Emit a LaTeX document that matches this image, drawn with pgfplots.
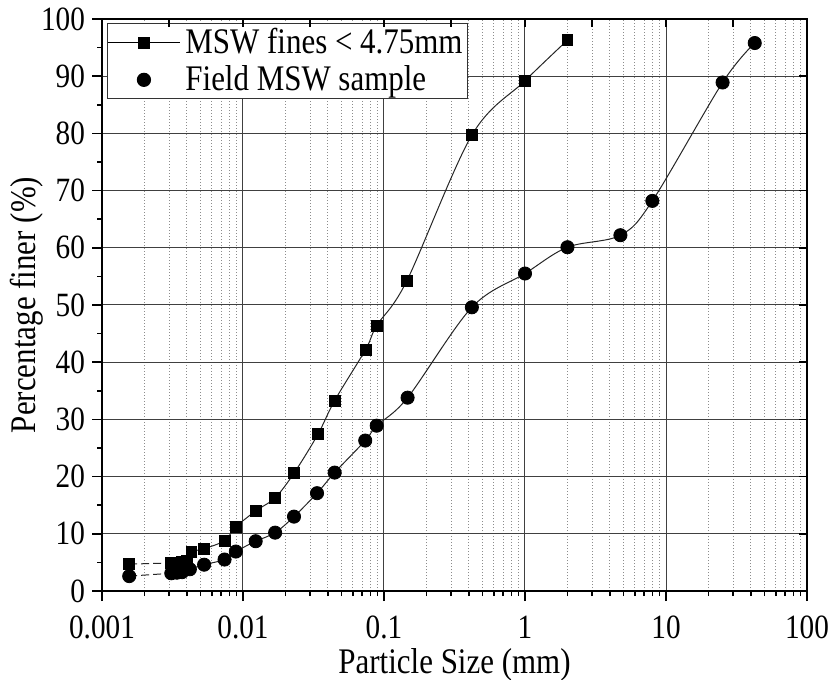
\documentclass[border=0pt]{standalone}
\usepackage{fontspec}
\setmainfont{Liberation Serif}[FakeStretch=0.86]
\usepackage{pgfplots}
\pgfplotsset{compat=1.18}

% legend images: a line with a mark in its middle, or the mark alone
\pgfplotsset{
  line mark legend/.style={legend image code/.code={
    \draw[black, line width=0.5pt] (0pt,0pt) -- (36pt,0pt);
    \draw[mark repeat=2, mark phase=2, ##1]
      plot coordinates {(0pt,0pt) (18pt,0pt) (36pt,0pt)};}},
  mark only legend/.style={legend image code/.code={
    \draw[mark repeat=2, mark phase=2, ##1]
      plot coordinates {(0pt,0pt) (18pt,0pt) (36pt,0pt)};}},
}

% Grain size distribution: MSW fines (< 4.75 mm) and the field MSW sample
\pgfplotstableread{
x        y
0.00156  4.7
0.0031   4.9
0.0034   5.0
0.0037   5.1
0.0040   5.3
0.0043   6.8
0.0053   7.4
0.0074   8.8
0.0089   11.2
0.0123   14.0
0.0169   16.3
0.023    20.6
0.034    27.4
0.0447   33.3
0.074    42.2
0.0888   46.4
0.145    54.2
0.42     79.7
1.0      89.2
2.0      96.3
}\fines
\pgfplotstableread{
x        y
0.00156  2.6
0.0031   3.1
0.0034   3.2
0.0037   3.3
0.0042   3.8
0.0053   4.6
0.0074   5.5
0.0089   6.9
0.0123   8.7
0.0169   10.2
0.023    13.0
0.0335   17.1
0.0447   20.7
0.0736   26.3
0.0888   28.9
0.147    33.8
0.42     49.6
1.0      55.5
2.0      60.1
4.75     62.2
8.0      68.2
25.2     88.9
42.6     95.8
}\field

\begin{document}
\begin{tikzpicture}
\begin{axis}[
  scale only axis, width=352.5pt, height=286pt,
  xmode=log, xmin=0.001, xmax=100, ymin=0, ymax=100,
  xtick={0.001,0.01,0.1,1,10,100},
  xticklabels={0.001,0.01,0.1,1,10,100},
  minor xtick={0.002,0.003,0.004,0.005,0.006,0.007,0.008,0.009,
               0.02,0.03,0.04,0.05,0.06,0.07,0.08,0.09,
               0.2,0.3,0.4,0.5,0.6,0.7,0.8,0.9,
               2,3,4,5,6,7,8,9,20,30,40,50,60,70,80,90},
  ytick={0,10,...,100},
  minor ytick={5,15,...,95},
  xtick pos=left, ytick pos=left,
  tick align=outside,
  major tick length=5pt, minor tick length=2.5pt,
  tick style={black, line width=0.8pt},
  axis line style={line width=1pt},
  xmajorgrids, ymajorgrids, xminorgrids,
  major grid style={black!75, line width=0.5pt},
  minor grid style={black!45, dash pattern=on 0.5pt off 1pt, line width=0.45pt},
  /pgf/number format/assume math mode=true,
  ticklabel style={font=\fontsize{17}{19}\selectfont},
  xticklabel style={yshift=-4pt},
  label style={font=\fontsize{18}{20}\selectfont},
  xlabel={Particle Size (mm)},
  ylabel={Percentage finer (\%)},
  xlabel style={yshift=2pt},
  ylabel style={yshift=-8pt},
  legend cell align=left,
  legend style={at={(0.007,0.993)}, anchor=north west,
    draw=black!80, line width=0.5pt, inner xsep=0pt, inner ysep=1.5pt,
    row sep=2.5pt,
    font=\fontsize{18}{19}\selectfont,
    nodes={inner xsep=2.5pt, inner ysep=1pt}},
]
\coordinate (o) at (rel axis cs:0,0);

% connecting curves
\addplot[black!85, line width=0.5pt, dash pattern=on 4pt off 2pt, forget plot]
  coordinates {(0.00156,4.7) (0.0031,4.9)};
\addplot[black!85, line width=0.5pt, dash pattern=on 4pt off 2pt, forget plot]
  coordinates {(0.00156,2.6) (0.0031,3.1)};
\addplot[black!85, line width=0.5pt, smooth, tension=0.55, forget plot]
  table[x=x, y=y, skip coords between index={0}{1}] {\fines};
\addplot[black!85, line width=0.5pt, smooth, tension=0.55, forget plot]
  table[x=x, y=y, skip coords between index={0}{1}] {\field};

% measured points
\addplot[only marks, mark=square*, mark size=2.7pt, black, line mark legend]
  table[x=x, y=y] {\fines};
\addlegendentry{MSW fines < 4.75mm}
\addplot[only marks, mark=*, mark size=3.3pt, black, mark only legend]
  table[x=x, y=y] {\field};
\addlegendentry{Field MSW sample}
\end{axis}

% inward ticks on the top and right edges
\begin{axis}[
  scale only axis, width=352.5pt, height=286pt,
  xmode=log, xmin=0.001, xmax=100, ymin=0, ymax=100,
  xtick={0.001,0.003,0.01,0.03,0.1,0.3,1,3,10,30,100},
  ytick={0,10,...,100},
  minor xtick={}, minor ytick={},
  xtick pos=right, ytick pos=right,
  tick align=inside, major tick length=4pt,
  tick style={black, line width=0.8pt},
  axis line style={draw=none},
  xticklabels={}, yticklabels={},
]
\end{axis}

\pgfresetboundingbox
\path[use as bounding box] ([shift={(-51pt,-44.5pt)}]o) rectangle ++(415pt,340pt);
\end{tikzpicture}
\end{document}
